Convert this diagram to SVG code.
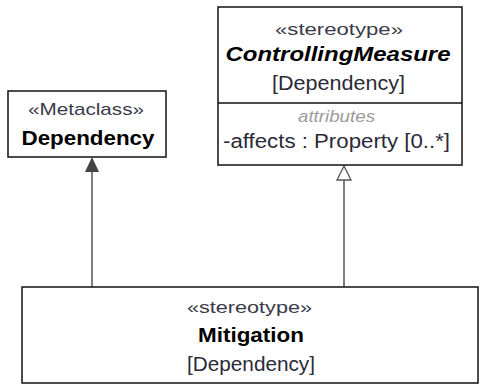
<svg xmlns="http://www.w3.org/2000/svg" width="479" height="385" viewBox="0 0 479 385">
<style>
.box{fill:#fff;stroke:#111;stroke-width:1.5}
.t{font-family:"Liberation Sans",Arial,sans-serif;font-size:20px;fill:#2a2a38;text-anchor:middle}
.st{font-size:17px;fill:#3a3a48}
.b{font-weight:bold;fill:#000;font-size:20px}
.bi{font-weight:bold;font-style:italic;fill:#000;font-size:20px}
.att{font-style:italic;fill:#9a9a9a;font-size:16px}
.line{stroke:#555;stroke-width:1.5;fill:none}
</style>
<rect width="479" height="385" fill="#fff"/>
<g id="connectors">
<line class="line" x1="92" y1="287" x2="92" y2="170"/>
<polygon points="92,157 85,172 99,172" fill="#444"/>
<line class="line" x1="344" y1="287" x2="344" y2="180"/>
<polygon points="344,166 337,180 351,180" fill="#fff" stroke="#555" stroke-width="1.3"/>
</g>
<g id="metaclass-dependency">
<rect class="box" x="8" y="91" width="158" height="66"/>
<text class="t st" x="86" y="115" textLength="116" lengthAdjust="spacingAndGlyphs">«Metaclass»</text>
<text class="t b" x="88" y="145" textLength="133" lengthAdjust="spacingAndGlyphs">Dependency</text>
</g>
<g id="controlling-measure">
<rect class="box" x="218" y="7" width="244" height="158"/>
<line x1="218" y1="103" x2="462" y2="103" stroke="#111" stroke-width="1.5"/>
<text class="t st" x="339" y="35" textLength="128" lengthAdjust="spacingAndGlyphs">«stereotype»</text>
<text class="t bi" x="338" y="61" textLength="225" lengthAdjust="spacingAndGlyphs">ControllingMeasure</text>
<text class="t" x="338.5" y="90" textLength="133" lengthAdjust="spacingAndGlyphs">[Dependency]</text>
<text class="t att" x="336.5" y="122" textLength="77" lengthAdjust="spacingAndGlyphs">attributes</text>
<text class="t" x="223" y="148" style="text-anchor:start" textLength="227" lengthAdjust="spacingAndGlyphs">-affects : Property [0..*]</text>
</g>
<g id="mitigation">
<rect class="box" x="22" y="287" width="456" height="96"/>
<text class="t st" x="249.5" y="313" textLength="125" lengthAdjust="spacingAndGlyphs">«stereotype»</text>
<text class="t b" x="251" y="342" textLength="106" lengthAdjust="spacingAndGlyphs">Mitigation</text>
<text class="t" x="251" y="371" textLength="128" lengthAdjust="spacingAndGlyphs">[Dependency]</text>
</g>
</svg>
